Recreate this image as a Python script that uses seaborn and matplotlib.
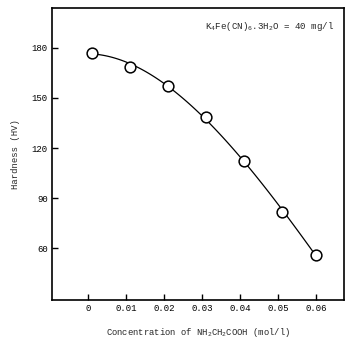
import matplotlib
matplotlib.use("Agg")
import matplotlib.pyplot as plt
import seaborn as sns
import pandas as pd

# Data
concentration = [0.001, 0.011, 0.021, 0.031, 0.041, 0.051, 0.060]
hardness = [177.2, 168.8, 157.4, 138.7, 112.1, 81.6, 56.2]
x_ticks = [0, 0.01, 0.02, 0.03, 0.04, 0.05, 0.06]
x_tick_labels = ["0", "0.01", "0.02", "0.03", "0.04", "0.05", "0.06"]
y_ticks = [60, 90, 120, 150, 180]

df = pd.DataFrame({"conc": concentration, "hv": hardness})

sns.set_theme(style="white")
plt.rcParams["font.family"] = ["Liberation Mono", "DejaVu Sans Mono"]
plt.rcParams["mathtext.fontset"] = "custom"
plt.rcParams["mathtext.rm"] = "Liberation Mono"
plt.rcParams["mathtext.it"] = "Liberation Mono"

fig = plt.figure(figsize=(3.6, 3.42), dpi=100)
ax = fig.add_axes([0.144, 0.123, 0.812, 0.854])

sns.regplot(data=df, x="conc", y="hv", order=3, ci=None, scatter=False,
            truncate=True, line_kws={"color": "black", "lw": 0.9}, ax=ax)
sns.scatterplot(data=df, x="conc", y="hv", s=60, marker="o",
                facecolor="white", edgecolor="black", linewidth=1.1,
                zorder=3, ax=ax)

ax.set_xlim(-0.0095, 0.0674)
ax.set_ylim(29, 204)
ax.set_xticks(x_ticks)
ax.set_xticklabels(x_tick_labels)
ax.set_yticks(y_ticks)
ax.tick_params(direction="in", length=4, width=1, labelsize=6.5, colors="black",
               bottom=True, left=True, top=False, right=False, pad=3)
for sp in ax.spines.values():
    sp.set_color("black")
    sp.set_linewidth(1.2)

ax.set_xlabel("Concentration of NH$_2$CH$_2$COOH (mol/l)", fontsize=6.4, labelpad=9)
ax.set_ylabel("Hardness (HV)", fontsize=6.4, labelpad=8)
ax.text(0.965, 0.935, "K$_4$Fe(CN)$_6$.3H$_2$O = 40 mg/l", transform=ax.transAxes,
        ha="right", va="center", fontsize=6.6)

fig.savefig("out.png", dpi=100)
